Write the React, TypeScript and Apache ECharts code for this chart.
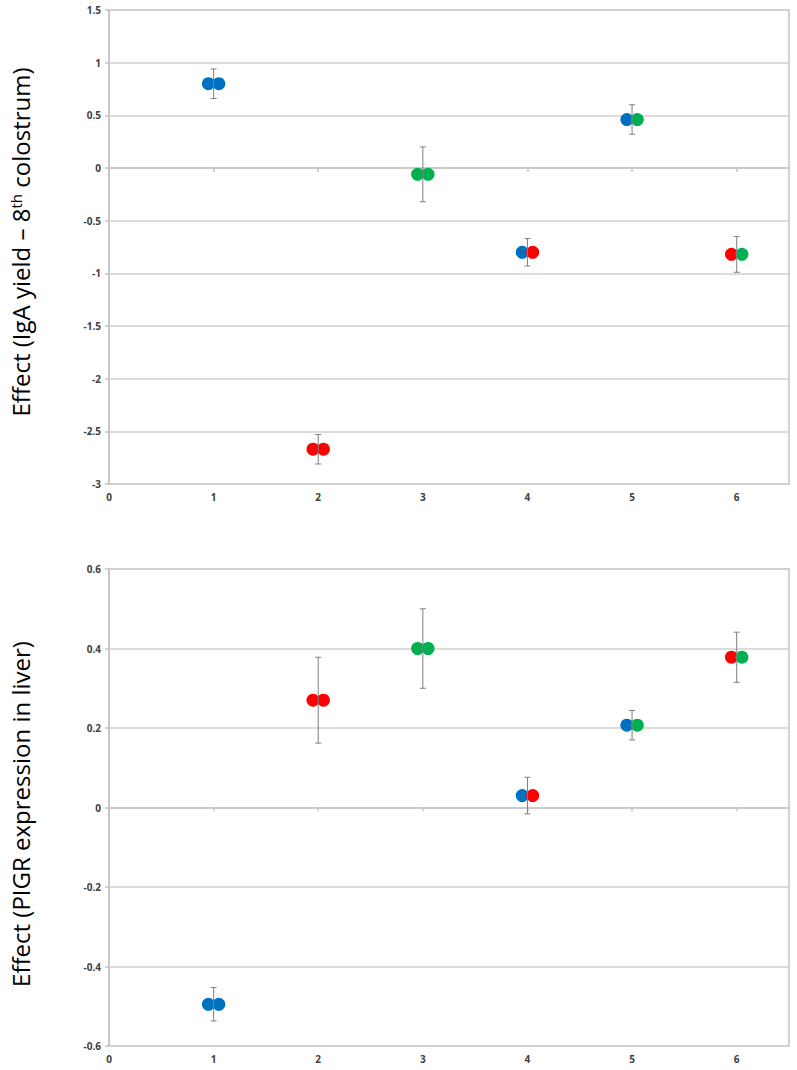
import React, { useEffect, useRef } from "react";
import * as echarts from "echarts";

const groups = [1, 2, 3, 4, 5, 6];
const leftColors = ["#0070C0", "#FF0000", "#00B050", "#0070C0", "#0070C0", "#FF0000"];
const rightColors = ["#0070C0", "#FF0000", "#00B050", "#FF0000", "#00B050", "#00B050"];

const topMean = [0.8, -2.67, -0.06, -0.8, 0.46, -0.82];
const topErr = [0.14, 0.14, 0.26, 0.13, 0.14, 0.17];
const bottomMean = [-0.495, 0.27, 0.4, 0.03, 0.207, 0.378];
const bottomErr = [0.042, 0.108, 0.1, 0.046, 0.037, 0.063];

const xTicks = [0, 1, 2, 3, 4, 5, 6];
const dotOffset = 0.05;

const labelStyle = {
  color: "#404040",
  fontWeight: "bold" as const,
  fontSize: 10,
  fontFamily: "Open Sans",
};

export default function App() {
  const ref = useRef<HTMLDivElement>(null);
  useEffect(() => {
    if (!ref.current) return;
    const chart = echarts.init(ref.current, null, { renderer: "svg" });

    const gridDefs = [
      { left: 109, top: 10, width: 680, height: 474 },
      { left: 109, top: 569, width: 680, height: 477 },
    ];

    const xAxes = gridDefs.map((_, i) => ({
      type: "value",
      gridIndex: i,
      min: 0,
      max: 6.5,
      interval: 1,
      axisLine: { show: true, lineStyle: { color: "#c4c4c4", width: 1.5 } },
      axisTick: {
        show: true,
        length: 4,
        customValues: xTicks,
        lineStyle: { color: "#c4c4c4", width: 1.5 },
      },
      axisLabel: { ...labelStyle, margin: 8, customValues: xTicks },
      splitLine: { show: false },
    }));

    const yAxes = [
      { min: -3, max: 1.5, interval: 0.5 },
      { min: -0.6, max: 0.6, interval: 0.2 },
    ].map((d, i) => ({
      type: "value",
      gridIndex: i,
      ...d,
      axisLine: { show: true, lineStyle: { color: "#c4c4c4", width: 1.5 } },
      axisTick: { show: true, length: 4, lineStyle: { color: "#c4c4c4", width: 1.5 } },
      axisLabel: { ...labelStyle, margin: 8 },
      splitLine: { show: true, lineStyle: { color: "#d0d0d0", width: 1.5 } },
    }));

    const panels = [
      { mean: topMean, err: topErr },
      { mean: bottomMean, err: bottomErr },
    ];

    const series: any[] = [];
    panels.forEach((p, i) => {
      series.push({
        type: "scatter",
        xAxisIndex: i,
        yAxisIndex: i,
        symbolSize: 13,
        z: 2,
        data: groups.map((g, k) => ({
          value: [g - dotOffset, p.mean[k]],
          itemStyle: { color: leftColors[k], opacity: 1 },
        })),
      });
      series.push({
        type: "scatter",
        xAxisIndex: i,
        yAxisIndex: i,
        symbolSize: 13,
        z: 3,
        data: groups.map((g, k) => ({
          value: [g + dotOffset, p.mean[k]],
          itemStyle: { color: rightColors[k], opacity: 1 },
        })),
      });
      series.push({
        type: "custom",
        xAxisIndex: i,
        yAxisIndex: i,
        z: 4,
        data: groups.map((g, k) => [g, p.mean[k], p.err[k]]),
        renderItem: (params: any, api: any) => {
          const x = api.value(0);
          const y = api.value(1);
          const e = api.value(2);
          const t = api.coord([x, y + e]);
          const b = api.coord([x, y - e]);
          const cap = 3;
          const style = { stroke: "#7f7f7f", lineWidth: 1 };
          return {
            type: "group",
            children: [
              { type: "line", shape: { x1: t[0], y1: t[1], x2: b[0], y2: b[1] }, style },
              { type: "line", shape: { x1: t[0] - cap, y1: t[1], x2: t[0] + cap, y2: t[1] }, style },
              { type: "line", shape: { x1: b[0] - cap, y1: b[1], x2: b[0] + cap, y2: b[1] }, style },
            ],
          };
        },
      });
    });

    const titleStyle = {
      fill: "#000",
      fontSize: 24,
      fontFamily: "Open Sans",
      align: "center",
      verticalAlign: "middle",
    };

    chart.setOption({
      animation: false,
      grid: gridDefs.map((g) => ({
        ...g,
        show: true,
        borderColor: "#c4c4c4",
        borderWidth: 1.5,
        backgroundColor: "transparent",
      })),
      xAxis: xAxes,
      yAxis: yAxes,
      series,
      graphic: [
        {
          type: "text",
          x: 20,
          y: 242,
          rotation: Math.PI / 2,
          style: {
            ...titleStyle,
            text: "Effect (IgA yield – 8{sup|th} colostrum)",
            rich: {
              sup: { fontSize: 15, fontFamily: "Open Sans", verticalAlign: "top", padding: [0, 0, 9, 0] },
            },
          },
        },
        {
          type: "text",
          x: 20,
          y: 814,
          rotation: Math.PI / 2,
          style: { ...titleStyle, text: "Effect (PIGR expression in liver)" },
        },
      ],
    });
    return () => chart.dispose();
  }, []);
  return (
    <div
      ref={ref}
      style={{ position: "absolute", left: 0, top: 0, width: 797, height: 1070, background: "#fff" }}
    />
  );
}
